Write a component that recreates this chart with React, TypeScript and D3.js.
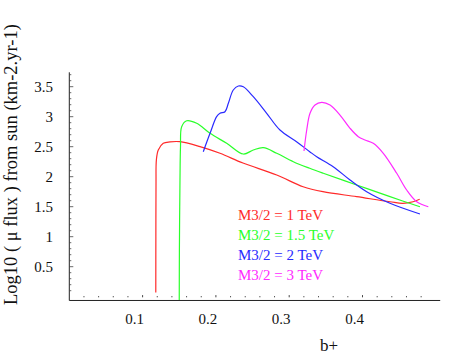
import React from "react";
import * as d3 from "d3";

// M3/2 = 1 TeV
const redX = [0.118, 0.1181, 0.1183, 0.1188, 0.1214, 0.1282, 0.1374, 0.151, 0.1783, 0.2056, 0.2369, 0.283, 0.319, 0.346, 0.392, 0.4375, 0.455, 0.469, 0.478];
const redY = [0.07, 1.0, 1.9, 2.28, 2.445, 2.557, 2.58, 2.583, 2.5, 2.39, 2.228, 2.028, 1.833, 1.75, 1.667, 1.583, 1.557, 1.583, 1.623];

// M3/2 = 1.5 TeV
const greenX = [0.15, 0.1502, 0.151, 0.1517, 0.1533, 0.1602, 0.1738, 0.192, 0.2147, 0.2374, 0.251, 0.2647, 0.283, 0.3056, 0.328, 0.3465, 0.392, 0.4375, 0.4784];
const greenY = [-0.055, 0.78, 1.945, 2.5, 2.833, 2.933, 2.89, 2.723, 2.557, 2.378, 2.445, 2.483, 2.39, 2.25, 2.14, 2.057, 1.862, 1.667, 1.5];

// M3/2 = 2 TeV
const blueX = [0.1828, 0.192, 0.201, 0.2056, 0.2124, 0.217, 0.2237, 0.2306, 0.2374, 0.251, 0.2693, 0.2874, 0.31, 0.328, 0.3375, 0.36, 0.383, 0.4057, 0.4375, 0.4784];
const blueY = [2.417, 2.723, 3.0, 3.057, 3.083, 3.223, 3.445, 3.512, 3.5, 3.333, 3.057, 2.778, 2.583, 2.417, 2.333, 2.167, 1.945, 1.75, 1.557, 1.378];

// M3/2 = 3 TeV
const magX = [0.3202, 0.3239, 0.3284, 0.3352, 0.3443, 0.3557, 0.3693, 0.383, 0.3943, 0.4034, 0.4147, 0.4284, 0.4467, 0.4603, 0.474, 0.4898];
const magY = [2.428, 2.778, 3.057, 3.195, 3.24, 3.195, 3.028, 2.807, 2.667, 2.612, 2.557, 2.39, 2.057, 1.778, 1.583, 1.5];

const legendLabels = ["M3/2 = 1 TeV", "M3/2 = 1.5 TeV", "M3/2 = 2 TeV", "M3/2 = 3 TeV"];
const colors = ["#ff2a2a", "#2aff2a", "#2a2aff", "#ff2aff"];
const xTickLabels = [0.1, 0.2, 0.3, 0.4];
const yTickLabels = [0.5, 1, 1.5, 2, 2.5, 3, 3.5];

const W = 450;
const H = 355;
const font = "Liberation Serif, Times New Roman, serif";

export default function App() {
  const x = d3.scaleLinear().domain([0, 0.5]).range([69.3, 435.8]);
  const y = d3.scaleLinear().domain([0, 3.5]).range([296.7, 86.7]);

  const series = [
    [redX, redY],
    [greenX, greenY],
    [blueX, blueY],
    [magX, magY],
  ].map(([xs, ys]) => xs.map((v, i) => [v, ys[i]] as [number, number]));

  const line = d3
    .line<[number, number]>()
    .x((d) => x(d[0]))
    .y((d) => y(d[1]))
    .curve(d3.curveCatmullRom.alpha(0.5));

  const xMinor = d3.range(1, 25).map((i) => i * 0.02);
  const yMinor = d3.range(1, 38).map((i) => i * 0.1);
  const axisY = y(-0.063);
  const axisX = x(0);

  return (
    <svg width={W} height={H} style={{ position: "absolute", left: 0, top: 0, background: "#fff" }}>
      {/* axes */}
      <line x1={axisX} x2={axisX} y1={y(3.74)} y2={axisY} stroke="#222" strokeWidth={1} />
      <line x1={axisX} x2={x(0.506)} y1={axisY} y2={axisY} stroke="#222" strokeWidth={1} />

      {xMinor.map((v, i) => {
        const major = Math.abs(v * 10 - Math.round(v * 10)) < 1e-6;
        return (
          <line
            key={"xt" + i}
            x1={x(v)}
            x2={x(v)}
            y1={y(0) - (major ? 1.6 : 0.6)}
            y2={y(0) + 0.6}
            stroke="#444"
            strokeWidth={1}
          />
        );
      })}
      {yMinor.map((v, i) => {
        const major = Math.abs(v * 2 - Math.round(v * 2)) < 1e-6;
        return (
          <line
            key={"yt" + i}
            x1={axisX}
            x2={axisX + (major ? 4 : 2)}
            y1={y(v)}
            y2={y(v)}
            stroke="#444"
            strokeWidth={0.8}
          />
        );
      })}

      {xTickLabels.map((v) => (
        <text key={"xl" + v} x={x(v) - 8} y={323.5} fontSize={15} fontFamily={font} textAnchor="middle" fill="#111">
          {v}
        </text>
      ))}
      {yTickLabels.map((v) => (
        <text key={"yl" + v} x={53} y={y(v) + 5} fontSize={15} fontFamily={font} textAnchor="end" fill="#111">
          {v}
        </text>
      ))}

      <text x={320} y={351} fontSize={17} fontFamily={font} fill="#111">
        b+
      </text>
      <text transform="translate(17,305) rotate(-90)" fontSize={18.5} fontFamily={font} fill="#111">
        Log10 ( μ flux )  from sun (km-2.yr-1)
      </text>

      {series.map((d, i) => (
        <path key={"s" + i} d={line(d) || ""} fill="none" stroke={colors[i]} strokeWidth={1.2} />
      ))}

      {legendLabels.map((t, i) => (
        <text key={"lg" + i} x={238} y={220 + i * 20} fontSize={15} fontFamily={font} fill={colors[i]}>
          {t}
        </text>
      ))}
    </svg>
  );
}
